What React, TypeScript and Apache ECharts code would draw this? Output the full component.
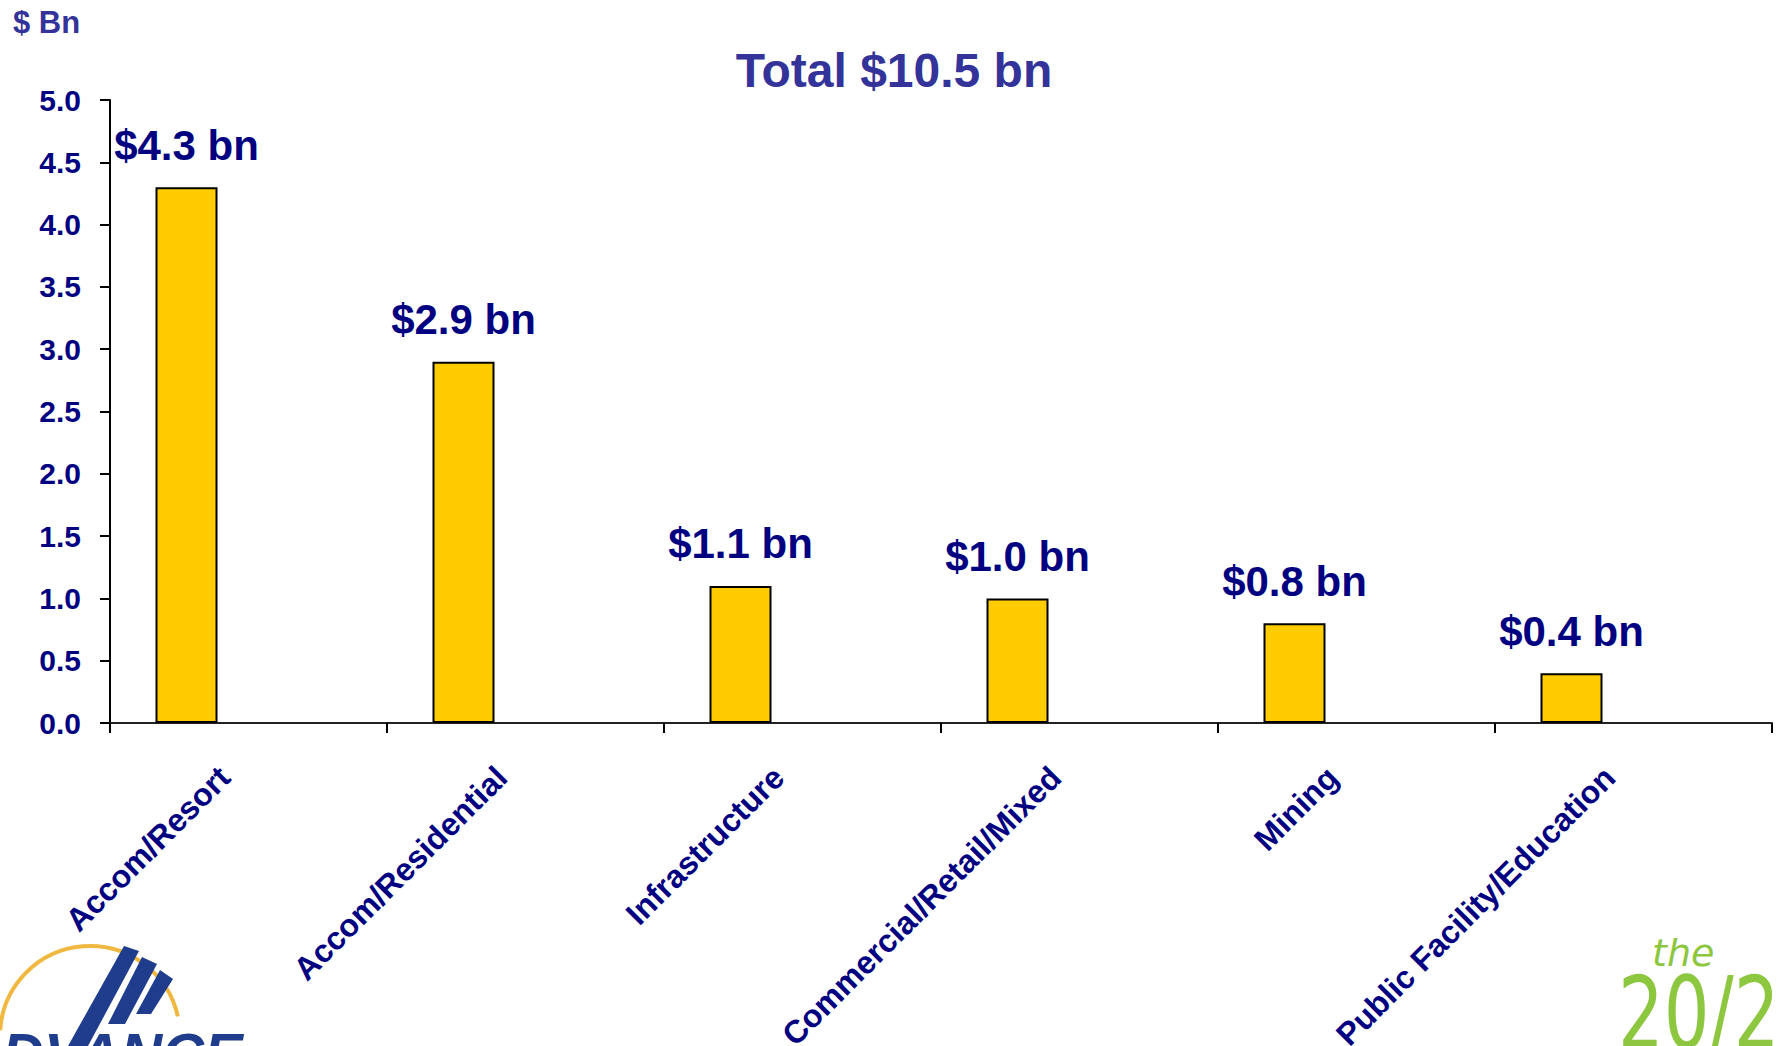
import React, { useEffect, useRef } from "react";
import * as echarts from "echarts";

const categories = [
  "Accom/Resort",
  "Accom/Residential",
  "Infrastructure",
  "Commercial/Retail/Mixed",
  "Mining",
  "Public Facility/Education",
];
const values = [4.3, 2.9, 1.1, 1.0, 0.8, 0.4];
const emptySeriesA: (number | null)[] = [];
const emptySeriesB: (number | null)[] = [];
const yTicks = { min: 0, max: 5, interval: 0.5 };
const titleText = "Total $10.5 bn";
const unitText = "$ Bn";

const NAVY = "#000080";
const TITLE_BLUE = "#333399";
const FONT = '"Liberation Sans", Arial, sans-serif';

export default function App() {
  const ref = useRef<HTMLDivElement>(null);
  useEffect(() => {
    if (!ref.current) return;
    const chart = echarts.init(ref.current, undefined, { renderer: "svg" });
    const logoBlue = "#1F3D8C";
    const option: any = {
      animation: false,
      backgroundColor: "#ffffff",
      grid: { left: 110, right: 5, top: 100, bottom: 323, containLabel: false, outerBoundsMode: "none" },
      xAxis: {
        type: "category",
        data: categories,
        boundaryGap: true,
        axisLine: { show: true, lineStyle: { color: "#222", width: 2 } },
        axisTick: { show: true, length: 10, inside: false, lineStyle: { color: "#000", width: 2 } },
        axisLabel: {
          interval: 0,
          rotate: 45,
          margin: 25,
          padding: [0, 34, 0, 0],
          color: NAVY,
          fontFamily: FONT,
          fontWeight: "bold",
          fontSize: 32,
        },
        splitLine: { show: false },
      },
      yAxis: {
        type: "value",
        min: yTicks.min,
        max: yTicks.max,
        interval: yTicks.interval,
        axisLine: { show: true, lineStyle: { color: "#000", width: 2 } },
        axisTick: { show: true, length: 10, inside: false, lineStyle: { color: "#000", width: 2 } },
        axisLabel: {
          margin: 29,
          color: NAVY,
          fontFamily: FONT,
          fontWeight: "bold",
          fontSize: 30,
          formatter: (v: number) => v.toFixed(1),
        },
        splitLine: { show: false },
      },
      series: [
        {
          type: "bar",
          data: values,
          barWidth: 62,
          barGap: "0%",
          itemStyle: { color: "#FFCC00", borderColor: "#000", borderWidth: 2 },
          label: {
            show: true,
            position: "top",
            distance: 21,
            color: NAVY,
            fontFamily: FONT,
            fontWeight: "bold",
            fontSize: 42,
            formatter: (p: any) => `$${Number(p.value).toFixed(1)} bn`,
          },
        },
        { type: "bar", data: emptySeriesA, barWidth: 62, barGap: "0%" },
        { type: "bar", data: emptySeriesB, barWidth: 62, barGap: "0%" },
      ],
      graphic: [
        {
          type: "text",
          x: 13,
          y: 7,
          style: { text: unitText, font: `bold 31px ${FONT}`, fill: TITLE_BLUE, align: "left", verticalAlign: "top" },
        },
        {
          type: "text",
          x: 894,
          y: 70,
          style: { text: titleText, font: `bold 48px ${FONT}`, fill: TITLE_BLUE, align: "center", verticalAlign: "middle" },
        },
        // Left logo
        {
          type: "arc",
          shape: { cx: 90, cy: 1036, r: 90, startAngle: Math.PI * 1.02, endAngle: Math.PI * 1.93, clockwise: true },
          style: { stroke: "#F0B840", lineWidth: 4, fill: "none" },
        },
        {
          type: "polygon",
          shape: { points: [[124, 946], [139, 951], [88, 1046], [68, 1046]] },
          style: { fill: logoBlue },
        },
        {
          type: "polygon",
          shape: { points: [[142, 957], [157, 964], [125, 1024], [108, 1024]] },
          style: { fill: logoBlue },
        },
        {
          type: "polygon",
          shape: { points: [[160, 970], [173, 979], [151, 1014], [136, 1014]] },
          style: { fill: logoBlue },
        },
        {
          type: "text",
          x: 2,
          y: 1024,
          style: { text: "DVANCE", font: `italic bold 58px ${FONT}`, fill: logoBlue, align: "left", verticalAlign: "top" },
        },
        // Right logo
        {
          type: "text",
          x: 1652,
          y: 934,
          style: { text: "the", font: `italic 38px "DejaVu Sans", sans-serif`, fill: "#8DC63F", align: "left", verticalAlign: "top" },
        },
        {
          type: "text",
          x: 1618,
          y: 964,
          scaleX: 0.72,
          style: { text: "20/20", font: `100px "DejaVu Sans", sans-serif`, fill: "#8DC63F", align: "left", verticalAlign: "top" },
        },
      ],
    };
    chart.setOption(option);
    return () => chart.dispose();
  }, []);
  return <div ref={ref} style={{ width: 1777, height: 1046, position: "absolute", left: 0, top: 0 }} />;
}
